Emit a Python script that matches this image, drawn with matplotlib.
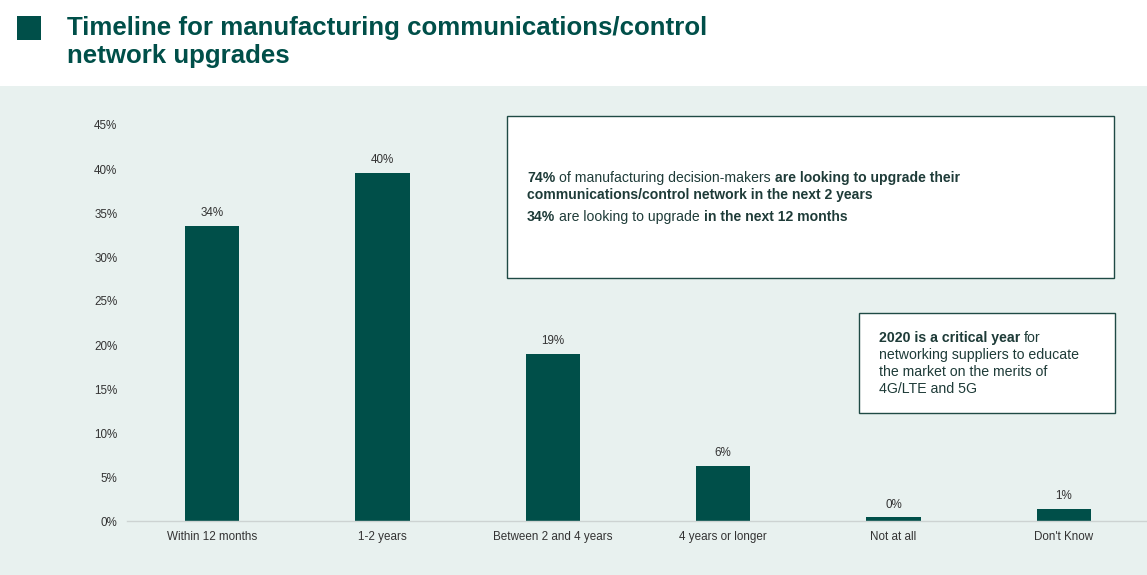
import matplotlib.pyplot as plt
from matplotlib.patches import Rectangle

plt.rcParams['font.family'] = ['Liberation Sans', 'DejaVu Sans']

# --- data ---
categories = ['Within 12 months', '1-2 years', 'Between 2 and 4 years',
              '4 years or longer', 'Not at all', "Don't Know"]
values = [33.5, 39.5, 19.0, 6.3, 0.4, 1.4]
value_labels = ['34%', '40%', '19%', '6%', '0%', '1%']
yticks = [0, 5, 10, 15, 20, 25, 30, 35, 40, 45]
ytick_labels = [f'{v}%' for v in yticks]

title_lines = ['Timeline for manufacturing communications/control', 'network upgrades']

DARK = '#004F49'
BAND = '#E8F1EF'
TXT = '#333333'
BOX_TXT = '#1E3B38'

W, H = 1147, 575
fig = plt.figure(figsize=(W / 100, H / 100), dpi=100)
fig.patch.set_facecolor('white')


def fx(px):
    return px / W


def fy(py):
    return 1 - py / H


# light background band under the header
fig.patches.append(Rectangle((0, 0), 1, fy(86), transform=fig.transFigure,
                             facecolor=BAND, edgecolor='none', zorder=-1))

# title block
fig.patches.append(Rectangle((fx(17), fy(40)), fx(24), 24 / H, transform=fig.transFigure,
                             facecolor=DARK, edgecolor='none', zorder=1))
fig.text(fx(67), fy(34.5), title_lines[0], fontsize=18.6, fontweight='bold',
         color=DARK, va='baseline', ha='left')
fig.text(fx(67), fy(62.5), title_lines[1], fontsize=18.6, fontweight='bold',
         color=DARK, va='baseline', ha='left')

# --- bar chart ---
ax = fig.add_axes([fx(127), fy(521), fx(1149) - fx(127), fy(125) - fy(521)])
ax.set_zorder(5)
ax.set_facecolor('none')
x = range(len(categories))
bars = ax.bar(x, values, width=0.32, color=DARK, zorder=2)
for b, lab in zip(bars, value_labels):
    ax.annotate(lab, (b.get_x() + b.get_width() / 2, b.get_height()),
                xytext=(0, 5), textcoords='offset points', ha='center', va='bottom',
                fontsize=8.4, color=TXT)

ax.set_xlim(-0.5, len(categories) - 0.5)
ax.set_ylim(0, 45)
ax.set_yticks(yticks)
ax.set_yticklabels(ytick_labels)
ax.set_xticks(list(x))
ax.set_xticklabels(categories)
ax.tick_params(axis='both', length=0, labelsize=8.4, labelcolor=TXT)
ax.tick_params(axis='y', pad=7)
ax.tick_params(axis='x', pad=7)
for s in ['top', 'right', 'left']:
    ax.spines[s].set_visible(False)
ax.spines['bottom'].set_color('#CDD3D2')
ax.spines['bottom'].set_linewidth(1)

# --- callout box 1 ---
fig.patches.append(Rectangle((fx(507), fy(278)), fx(1114) - fx(507), (278 - 116) / H,
                             transform=fig.transFigure, facecolor='white',
                             edgecolor='#1F4A45', linewidth=1, zorder=3))


def runs(x0, y0, parts, size):
    # mixed bold / regular text on one line, each piece placed after the previous one
    prev = fig.text(x0, y0, parts[0][0], fontsize=size, color=BOX_TXT,
                    fontweight=parts[0][1], va='baseline', ha='left', zorder=4)
    for s, w in parts[1:]:
        prev = ax.annotate(s, xy=(1, 0), xycoords=prev, xytext=(2.8, 0),
                           textcoords='offset points', fontsize=size, color=BOX_TXT,
                           fontweight=w, va='bottom', ha='left',
                           annotation_clip=False, zorder=6)
    return prev


runs(fx(527), fy(182), [('74%', 'bold'), ('of manufacturing decision-makers', 'normal'),
                         ('are looking to upgrade their', 'bold')], 10.1)
fig.text(fx(527), fy(198.5), 'communications/control network in the next 2 years',
         fontsize=10.1, color=BOX_TXT, fontweight='bold', va='baseline', ha='left', zorder=4)
runs(fx(527), fy(221), [('34%', 'bold'), ('are looking to upgrade', 'normal'),
                         ('in the next 12 months', 'bold')], 10.1)

# --- callout box 2 ---
fig.patches.append(Rectangle((fx(859), fy(413)), fx(1115) - fx(859), (413 - 313) / H,
                             transform=fig.transFigure, facecolor='white',
                             edgecolor='#1F4A45', linewidth=1, zorder=3))
runs(fx(879), fy(342), [('2020 is a critical year', 'bold'), ('for', 'normal')], 10.2)
for i, line in enumerate(['networking suppliers to educate', 'the market on the merits of',
                          '4G/LTE and 5G']):
    fig.text(fx(879), fy(359 + 17 * i), line, fontsize=10.2, color=BOX_TXT,
             va='baseline', ha='left', zorder=4)

fig.savefig('out.png', dpi=100)
